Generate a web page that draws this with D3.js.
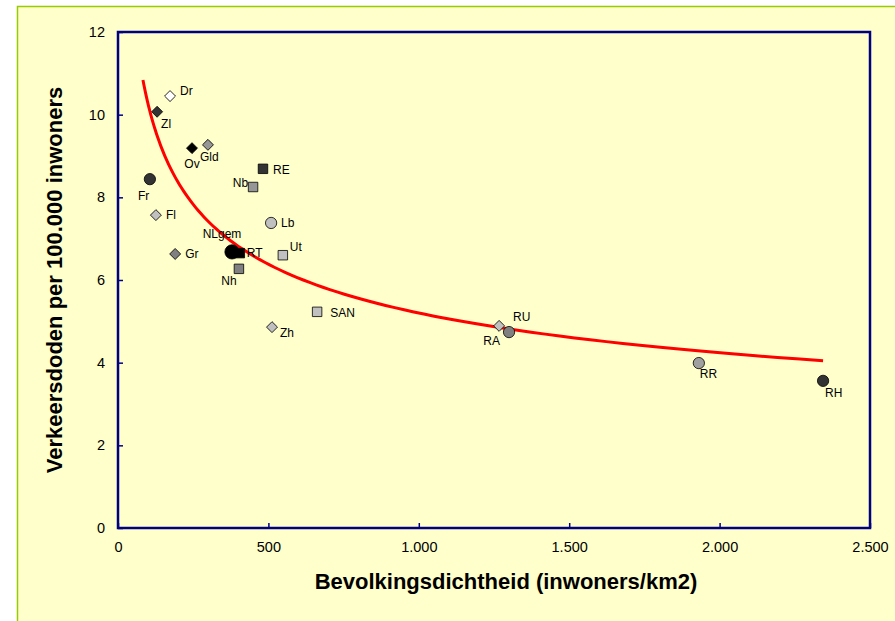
<!DOCTYPE html>
<html>
<head>
<meta charset="utf-8">
<script src="https://cdn.jsdelivr.net/npm/d3@7"></script>
<style>
  body { margin: 0; background: #fff; }
  text { font-family: "Liberation Sans", Arial, sans-serif; fill: #000; }
</style>
</head>
<body>
<div id="chart"></div>
<script>
// regions (provinces, big-city areas) with density and road deaths
var names   = ["Dr", "Zl", "Ov", "Gld", "RE", "Nb", "Fr", "Fl", "Lb", "NLgem", "RT", "Ut", "Gr", "Nh", "SAN", "Zh", "RU", "RA", "RR", "RH"];
var density = [173, 130, 246, 299, 482, 449, 106, 126, 509, 379, 405, 548, 190, 402, 662, 512, 1267, 1300, 1931, 2344];
var deaths  = [10.45, 10.07, 9.19, 9.27, 8.69, 8.25, 8.44, 7.57, 7.38, 6.68, 6.65, 6.6, 6.63, 6.27, 5.23, 4.86, 4.89, 4.74, 3.99, 3.56];
var shapes  = ["diamond", "diamond", "diamond", "diamond", "square", "square", "circle", "diamond", "circle", "bigcircle", "square", "square", "diamond", "square", "square", "diamond", "diamond", "circle", "circle", "circle"];
var fills   = ["#ffffff", "#333333", "#000000", "#969696", "#333333", "#969696", "#333333", "#c0c0c0", "#c0c0c0", "#000000", "#000000", "#c0c0c0", "#808080", "#808080", "#c0c0c0", "#c0c0c0", "#c0c0c0", "#808080", "#a0a0a0", "#333333"];

var xTicks = [0, 500, 1000, 1500, 2000, 2500];
var yTicks = [0, 2, 4, 6, 8, 10, 12];
var trendRange = [83, 2344];

// label placement relative to the marker: [dx, dy, anchor]
var labelPos = {
  Dr: [10, -5, "start"], Zl: [4, 12, "start"], Ov: [0, 16, "middle"], Gld: [-8, 12, "start"],
  RE: [10, 1, "start"], Nb: [-5, -4, "end"], Fr: [-12, 17, "start"], Fl: [10, 0, "start"],
  Lb: [10, 0, "start"], NLgem: [-10, -18, "middle"], RT: [7, 0, "start"], Ut: [7, -8, "start"],
  Gr: [10, 0, "start"], Nh: [-10, 12, "middle"], SAN: [13, 1, "start"], Zh: [8, 6, "start"],
  RU: [14, -9, "start"], RA: [-9, 9, "end"], RR: [1, 11, "start"], RH: [2, 12, "start"]
};

var width = 895, height = 621;
var plot = {left: 118, top: 32, right: 870, bottom: 528};

var svg = d3.select("#chart").append("svg")
            .attr("width", width)
            .attr("height", height);

svg.append("rect")
   .attr("x", 17.5).attr("y", 6.5)
   .attr("width", width).attr("height", height)
   .attr("fill", "#ffffcc")
   .attr("stroke", "#99cc00")
   .attr("stroke-width", 1.5);

var x = d3.scaleLinear().domain([0, 2500]).range([plot.left, plot.right]);
var y = d3.scaleLinear().domain([0, 12]).range([plot.bottom, plot.top]);

var fmt = function(d) { return d3.format(",")(d).replace(/,/g, "."); };

// axes, ticks pointing inwards
var xAxis = svg.append("g")
   .attr("transform", "translate(0," + plot.bottom + ")")
   .call(d3.axisBottom(x).tickValues(xTicks).tickSize(-5).tickPadding(14).tickFormat(fmt));
var yAxis = svg.append("g")
   .attr("transform", "translate(" + plot.left + ",0)")
   .call(d3.axisLeft(y).tickValues(yTicks).tickSize(-5).tickPadding(13));

[xAxis, yAxis].forEach(function(g) {
  g.select(".domain").remove();
  g.selectAll("line").attr("stroke", "#000080").attr("stroke-width", 1.5);
  g.selectAll("text").style("font-size", "14.5px").attr("fill", "#000");
});

svg.append("rect")
   .attr("x", plot.left).attr("y", plot.top)
   .attr("width", plot.right - plot.left).attr("height", plot.bottom - plot.top)
   .attr("fill", "none")
   .attr("stroke", "#000080")
   .attr("stroke-width", 2.5);

// power trendline fitted on log-log (least squares), like a spreadsheet trendline
var lx = density.map(function(d) { return Math.log(d); });
var ly = deaths.map(function(d) { return Math.log(d); });
var used = names.map(function(n, i) { return i; }).filter(function(i) { return names[i] !== "NLgem"; });
var mx = d3.mean(used, function(i) { return lx[i]; });
var my = d3.mean(used, function(i) { return ly[i]; });
var b = d3.sum(used, function(i) { return (lx[i] - mx) * (ly[i] - my); }) /
        d3.sum(used, function(i) { return (lx[i] - mx) * (lx[i] - mx); });
var a = Math.exp(my - b * mx);

var trendX = d3.range(0, 101).map(function(k) {
  return trendRange[0] * Math.pow(trendRange[1] / trendRange[0], k / 100);
});
svg.append("path")
   .datum(trendX)
   .attr("fill", "none")
   .attr("stroke", "#ff0000")
   .attr("stroke-width", 3)
   .attr("d", d3.line()
                .x(function(d) { return x(d); })
                .y(function(d) { return y(a * Math.pow(d, b)); }));

// markers
var points = names.map(function(n, i) {
  return {name: n, x: density[i], y: deaths[i], shape: shapes[i], fill: fills[i]};
});

var symbolFor = {
  diamond: d3.symbol().type(d3.symbolSquare).size(60),
  square: d3.symbol().type(d3.symbolSquare).size(90),
  circle: d3.symbol().type(d3.symbolCircle).size(100),
  bigcircle: d3.symbol().type(d3.symbolCircle).size(160)
};

var g = svg.selectAll("g.pt")
           .data(points)
           .enter()
           .append("g")
           .attr("class", "pt")
           .attr("transform", function(d) { return "translate(" + x(d.x) + "," + y(d.y) + ")"; });

g.append("path")
 .attr("d", function(d) { return symbolFor[d.shape](); })
 .attr("transform", function(d) { return d.shape === "diamond" ? "rotate(45)" : null; })
 .attr("fill", function(d) { return d.fill; })
 .attr("stroke", "#000")
 .attr("stroke-width", 0.8);

g.append("text")
 .text(function(d) { return d.name; })
 .attr("x", function(d) { return labelPos[d.name][0]; })
 .attr("y", function(d) { return labelPos[d.name][1]; })
 .attr("text-anchor", function(d) { return labelPos[d.name][2]; })
 .attr("dominant-baseline", "central")
 .style("font-size", "12px");

// axis titles
svg.append("text")
   .attr("x", 506).attr("y", 589)
   .attr("text-anchor", "middle")
   .style("font-size", "22px").style("font-weight", "bold")
   .text("Bevolkingsdichtheid (inwoners/km2)");

svg.append("text")
   .attr("transform", "translate(62,280) rotate(-90)")
   .attr("text-anchor", "middle")
   .style("font-size", "22px").style("font-weight", "bold")
   .text("Verkeersdoden per 100.000 inwoners");
</script>
</body>
</html>
